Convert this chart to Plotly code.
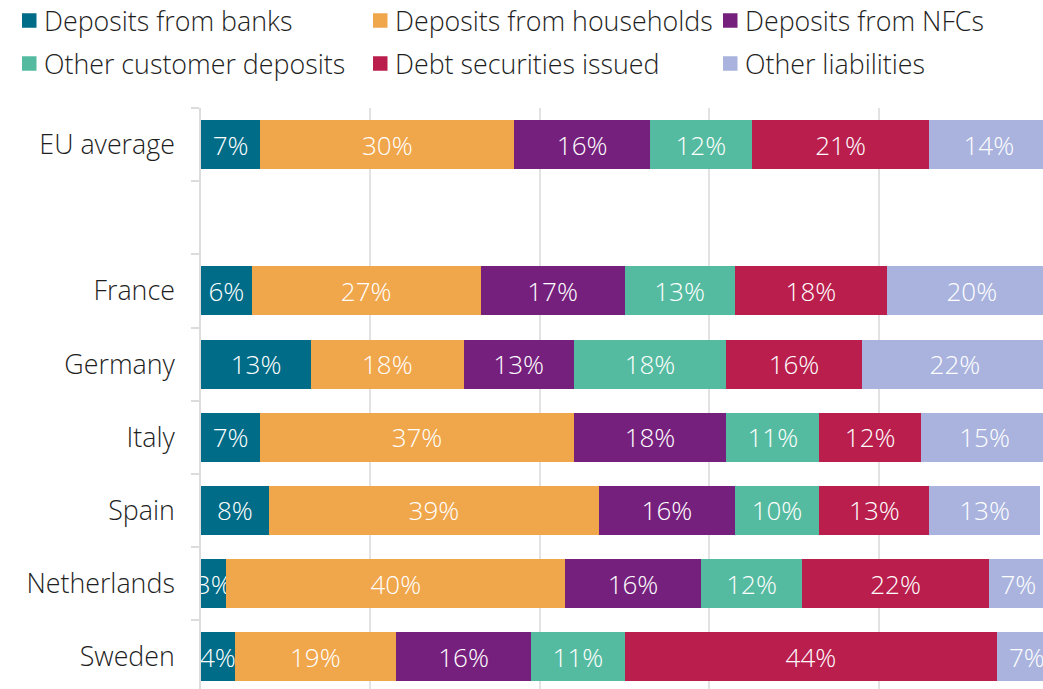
import plotly.graph_objects as go

# Funding structure of banks, % of total liabilities
countries = ["EU average", " ", "France", "Germany", "Italy", "Spain", "Netherlands", "Sweden"]

deposits_banks = [7, None, 6, 13, 7, 8, 3, 4]
deposits_households = [30, None, 27, 18, 37, 39, 40, 19]
deposits_nfcs = [16, None, 17, 13, 18, 16, 16, 16]
other_customer_deposits = [12, None, 13, 18, 11, 10, 12, 11]
debt_securities = [21, None, 18, 16, 12, 13, 22, 44]
other_liabilities = [14, None, 20, 22, 15, 13, 7, 7]

series_names = [
    "Deposits from banks",
    "Deposits from households",
    "Deposits from NFCs",
    "Other customer deposits",
    "Debt securities issued",
    "Other liabilities",
]
series_values = [
    deposits_banks,
    deposits_households,
    deposits_nfcs,
    other_customer_deposits,
    debt_securities,
    other_liabilities,
]
colors = ["#006c87", "#f0a64b", "#76207e", "#55bba0", "#b91e4d", "#a9b3de"]

FONT = "Open Sans"
LABEL_SIZE = 26.8
VALUE_SIZE = 26
TEXT_COLOR = "#1e1e1e"

W, H = 1043, 689
M_L, M_T = 201, 108
PLOT_W, PLOT_H = W - M_L, H - M_T


def px_to_paper_x(px):
    return (px - M_L) / PLOT_W


def px_to_paper_y(py):
    return (H - py) / PLOT_H


fig = go.Figure()
for name, vals, col in zip(series_names, series_values, colors):
    fig.add_trace(
        go.Bar(
            x=vals,
            y=countries,
            orientation="h",
            name=name,
            marker=dict(color=col, line=dict(width=0)),
            width=0.67,
            text=[f"{v}%" if v is not None else "" for v in vals],
            textposition="inside",
            insidetextanchor="middle",
            textangle=0,
            constraintext="none",
            textfont=dict(family=FONT, size=VALUE_SIZE, color="white", weight=300),
            showlegend=False,
            hoverinfo="skip",
        )
    )

# Legend: two rows of three entries, square swatch followed by the label
legend_cols = [22, 373, 723]
legend_rows = [20.5, 63.5]
swatch = 14.5
for i, (name, col) in enumerate(zip(series_names, colors)):
    lx = legend_cols[i % 3]
    ly = legend_rows[i // 3]
    fig.add_shape(
        type="rect",
        xref="paper",
        yref="paper",
        x0=px_to_paper_x(lx),
        x1=px_to_paper_x(lx + swatch),
        y0=px_to_paper_y(ly - swatch / 2),
        y1=px_to_paper_y(ly + swatch / 2),
        fillcolor=col,
        line=dict(width=0),
        layer="above",
    )
    fig.add_annotation(
        xref="paper",
        yref="paper",
        x=px_to_paper_x(lx + swatch + 5),
        y=px_to_paper_y(ly),
        xanchor="left",
        yanchor="middle",
        text=name,
        showarrow=False,
        font=dict(family=FONT, size=LABEL_SIZE, color=TEXT_COLOR, weight=300),
    )

fig.update_layout(
    width=W,
    height=H,
    margin=dict(l=M_L, r=0, t=M_T, b=0, pad=0),
    paper_bgcolor="white",
    plot_bgcolor="white",
    barmode="stack",
    showlegend=False,
    font=dict(family=FONT, size=LABEL_SIZE, color=TEXT_COLOR, weight=300),
    xaxis=dict(
        range=[0, 99.4],
        tick0=0,
        dtick=20,
        showgrid=True,
        gridcolor="#e2e2e2",
        gridwidth=1.5,
        zeroline=False,
        showticklabels=False,
        ticks="",
        fixedrange=True,
    ),
    yaxis=dict(
        type="category",
        categoryorder="array",
        categoryarray=countries,
        range=[7.44, -0.5],
        autorange=False,
        tickson="boundaries",
        ticks="outside",
        ticklen=8,
        tickcolor="#dcdcdc",
        tickwidth=1.5,
        showline=True,
        linecolor="#dcdcdc",
        linewidth=1.5,
        showgrid=False,
        ticklabelstandoff=19,
        tickfont=dict(family=FONT, size=LABEL_SIZE, color=TEXT_COLOR, weight=300),
        fixedrange=True,
    ),
)

fig.write_html("out.html", config={"displayModeBar": False})
